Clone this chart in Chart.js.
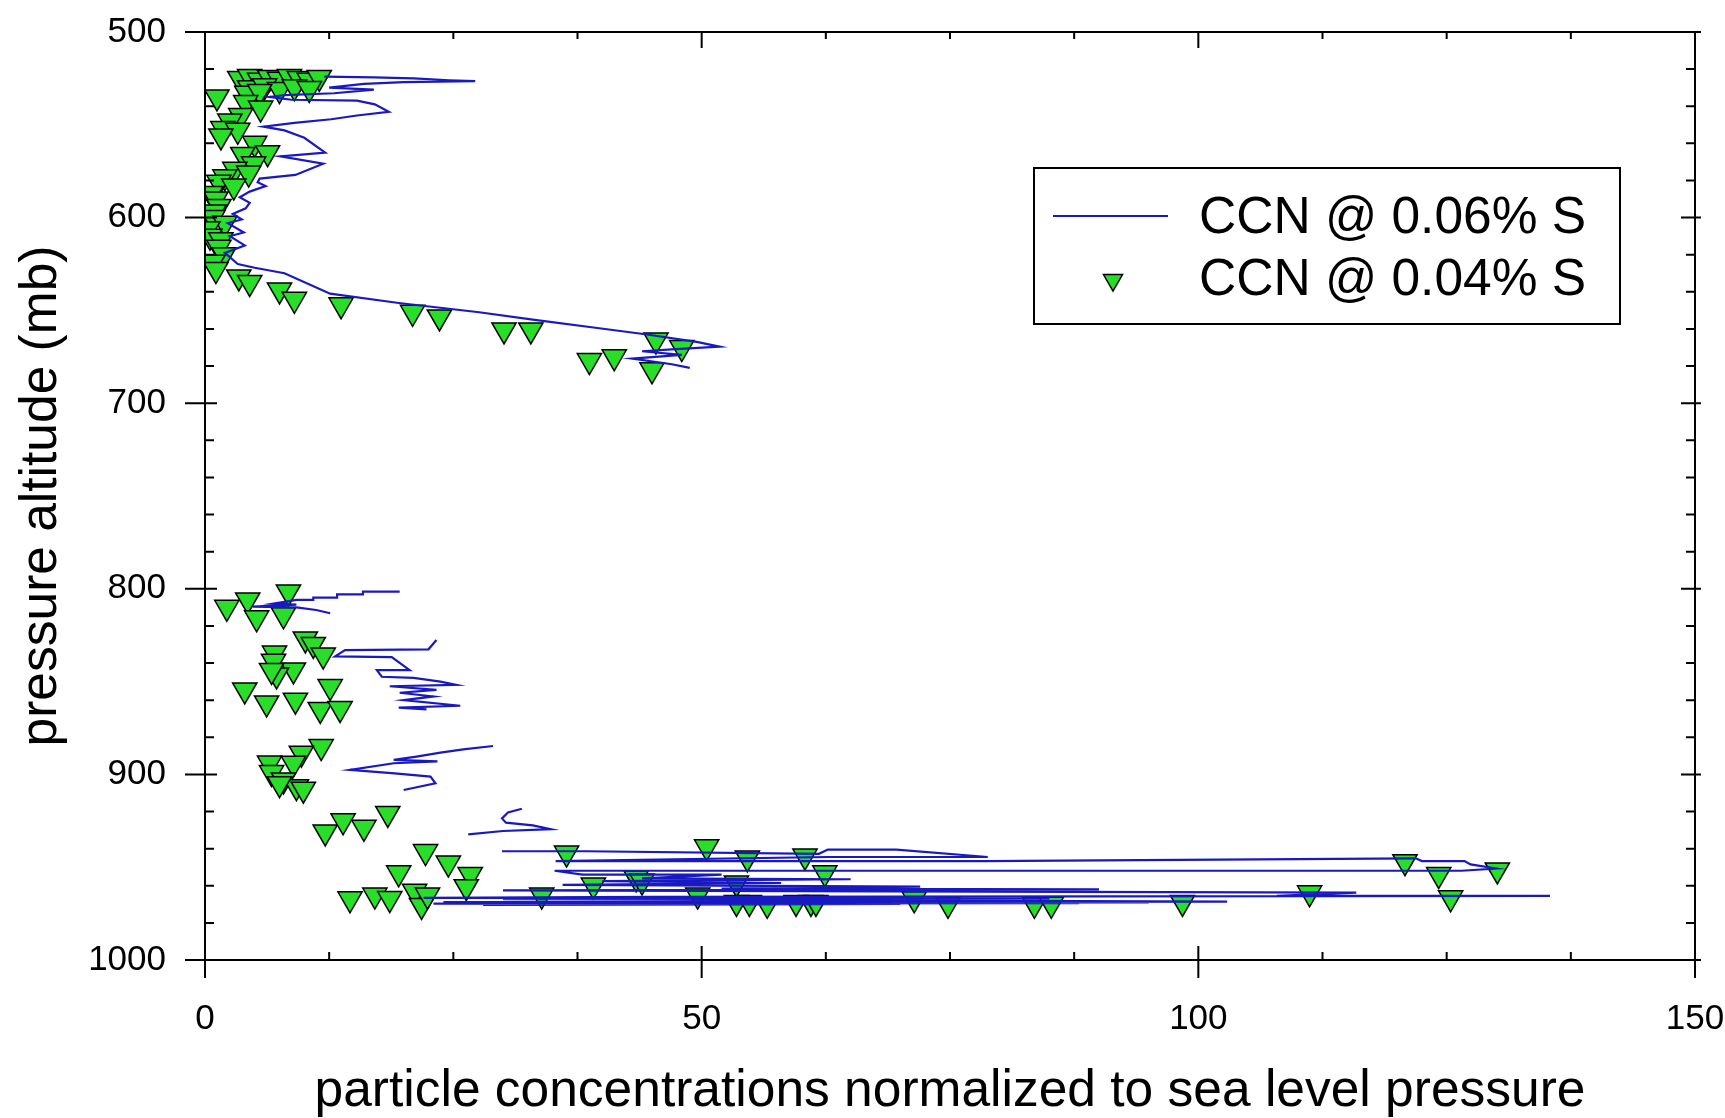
<!DOCTYPE html>
<html>
<head>
<meta charset="utf-8">
<script src="https://cdn.jsdelivr.net/npm/chart.js@4.4.1/dist/chart.umd.min.js"></script>
<style>
  body { margin: 0; background: #fff; }
  canvas { display: block; }
</style>
</head>
<body>
<canvas id="Chart" width="1725" height="1118"></canvas>
<script>
// CCN @ 0.06% S - blue trace, one array pair per flight leg (x = concentration, p = mb)
const legAX = [12, 17, 21, 24.6, 27.2, 20, 16, 12.5, 17, 13, 8, 6.5, 8.7, 15.3, 17.1, 18.5, 15.3, 12.7, 9, 5.9, 8, 10, 12.1, 7.6, 11.9, 9.1, 5.5, 5.3, 6.1, 4.5, 3.5, 4.5, 4.1, 2.8, 3.7, 2.3, 3.9, 2.5, 4, 2.0, 3.3, 5, 8, 12.6, 19.5, 27.6, 33, 39.5, 44.5, 49.5, 51.8, 47, 44, 48, 43, 47, 48.8];
const legAP = [524, 524.5, 525, 526, 526.5, 527, 528, 530, 531, 533, 534, 535, 536.5, 537, 539, 543, 545, 547, 549, 551, 553, 557, 565, 567, 571, 577, 579, 581, 583, 586, 589, 592, 595, 598, 601, 603, 608, 610, 615, 619, 625, 627, 630, 641, 646, 651, 655, 659.5, 663, 667, 669.5, 671, 672, 674, 676, 679, 681];

const legBX = [19.6, 15.9, 15.9, 13.3, 13.3, 10.9, 10.9, 9.2, 6.9, 9.2, 4.8, 9.2, 11.2, 12.6];
const legBP = [801.5, 801.5, 803, 803, 804.8, 804.8, 806, 806, 808, 808.5, 809.6, 810, 811.4, 813.2];

const legCX = [23.3, 22.5, 14.1, 13.1, 18.8, 20.6, 17.3, 17.8, 21, 23.7, 25.3, 18.6, 23.3, 19.6, 23, 20, 25.7, 19.5, 22.3];
const legCP = [827.6, 832.6, 833, 836.4, 836.8, 843.8, 843.8, 847.4, 848, 850, 851.8, 852.5, 854.5, 856, 858, 860, 863, 864, 865];

const legDX = [29, 26, 23.7, 21.3, 19, 23.4, 19, 14.6, 19.1, 22.7, 23.2, 20];
const legDP = [884.7, 886.5, 888.3, 890.4, 892.2, 893, 894, 897.6, 899.4, 901.2, 904.8, 908.4];

const legEX = [31.9, 30.5, 29.9, 30.3, 33, 34.8, 30, 26.5];
const legEP = [918.5, 920.5, 923.7, 926, 927.5, 929.5, 930.5, 932.3];

const legFX = [29.9, 38.4, 61.8, 62.7, 69.6, 78.8, 62.7, 35.3, 78.4, 121.9, 122.5, 126.8, 127.4, 130, 126.5, 35.2, 38, 52, 44, 65, 40, 58, 36, 72, 52, 90, 30, 115.9, 107.9, 135.4, 45, 22, 85, 30, 102.9, 24, 95, 26, 88, 23, 70, 55, 28];
const legFP = [941.4, 941.4, 942.8, 940.5, 940.5, 944.5, 944.5, 946.7, 946.7, 945.2, 946.7, 946.7, 948.5, 950.7, 951.9, 951.9, 954, 954, 956, 956.5, 957.5, 958.5, 959.5, 960.5, 961.5, 962, 962.5, 963.7, 965.5, 965.5, 966, 966.5, 966.8, 967.2, 968.6, 968.8, 969, 969.2, 969.4, 969.6, 969.8, 970, 970.3];

// CCN @ 0.04% S - triangles
const ccn04X = [3.5, 4.5, 5.5, 6.5, 7.5, 8.5, 9.5, 10.5, 11.5, 4.5, 6, 7.5, 9, 10.5,
  1.2, 4.2, 5.5, 4.1, 5.6, 3.6, 2.5, 1.8, 3.3, 1.6, 5, 6.3, 3.8, 4.9, 3.0, 4.4, 2, 1.4, 2.9, 0.6, 1.1, 1.4, 0.9, 0.8, 2.0, 0.3, 0.5, 1.6, 1.4, 1.9, 0.8, 1.1,
  3.4, 4.5, 7.5, 9.0, 13.7, 20.9, 23.6, 30.1, 32.8, 45.4, 48, 41.2, 38.7, 45,
  8.4, 2.2, 4.3, 5.2, 7.9, 10.1, 10.9, 11.9, 7.0, 6.9, 8.9, 7.2, 6.7, 4.0, 12.6, 6.2, 9.1, 11.6, 13.6,
  11.7, 9.7, 6.5, 8.9, 6.7, 7.9, 9.2, 9.9, 7.5,
  12.1, 13.9, 16, 18.4, 22.2, 24.5, 26.7, 26.3, 19.5, 17.1, 14.6, 18.6, 21.1, 21.8, 22.4,
  33.9, 36.4, 39.1, 43.4, 44, 50.5, 49.6, 53.5, 53.5, 54.6, 54.8, 56.6, 59.5, 60.4, 61, 61.5, 62.4,
  71.4, 74.8, 83.5, 85.2, 98.4, 111.2, 120.8, 124.2, 125.4, 130.1];
const ccn04P = [525, 524, 526, 524.5, 525.5, 524, 525, 526, 524.5, 530, 529, 531, 529.5, 530.5,
  535, 533, 532, 538, 541, 545, 548, 552, 553, 556, 560, 565, 566, 571, 574, 576, 578, 581, 583, 587, 590, 594, 597, 600, 603, 606, 610, 612, 616, 620, 624, 628,
  632, 635, 639, 644, 647, 651, 653.5, 660.5, 660.5, 666, 670, 675, 677, 682,
  801.7, 810, 806, 815.6, 814, 827, 830, 835.7, 834.6, 839, 843.7, 846.4, 844, 854.5, 852.7, 861.5, 860, 865, 864.5,
  885, 888.6, 893.9, 894, 899, 903, 906.6, 908, 905,
  931, 925, 928.5, 921, 941.6, 947.8, 954, 960.5, 953, 965, 967, 966.9, 963, 970.6, 965,
  965, 942.4, 959.6, 955.8, 957.5, 939, 965, 958.5, 969, 945, 969, 970, 969, 944, 969, 969, 953,
  967, 970, 970, 970, 969, 963.8, 947, 954, 966.5, 951.5];

const xTicks = [0, 50, 100, 150];
const yTicks = [500, 600, 700, 800, 900, 1000];

function toPoints(xs, ps) {
  return xs.map((v, i) => ({ x: v, y: ps[i] }));
}

// legs joined with a null point so the trace breaks between them
const legs = [[legAX, legAP], [legBX, legBP], [legCX, legCP], [legDX, legDP], [legEX, legEP], [legFX, legFP]];
let tracePoints = [];
legs.forEach((leg, i) => {
  if (i > 0) tracePoints.push({ x: null, y: null });
  tracePoints = tracePoints.concat(toPoints(leg[0], leg[1]));
});

const tickFont = { family: "'Liberation Sans', Arial, sans-serif", size: 35 };
const titleFont = { family: "'Liberation Sans', Arial, sans-serif", size: 51.5, lineHeight: 1 };

// box frame with major / minor ticks on all four sides
const framePlugin = {
  id: "frame",
  afterDraw(chart) {
    const ctx = chart.ctx;
    const a = chart.chartArea;
    const xs = chart.scales.x;
    const ys = chart.scales.y;
    ctx.save();
    ctx.strokeStyle = "#000";
    ctx.lineWidth = 2;
    ctx.strokeRect(a.left, a.top, a.right - a.left, a.bottom - a.top);
    ctx.beginPath();
    for (let v = 0; v <= 150; v += 12.5) {
      const px = xs.getPixelForValue(v);
      const major = v % 50 === 0;
      ctx.moveTo(px, a.bottom + (major ? 18 : 0));
      ctx.lineTo(px, a.bottom - (major ? 14 : 8));
      ctx.moveTo(px, a.top);
      ctx.lineTo(px, a.top + (major ? 16 : 7));
    }
    for (let p = 500; p <= 1000; p += 20) {
      const py = ys.getPixelForValue(p);
      const major = p % 100 === 0;
      ctx.moveTo(a.left - (major ? 20 : 0), py);
      ctx.lineTo(a.left + (major ? 12 : 9), py);
      ctx.moveTo(a.right + (major ? 6 : 0), py);
      ctx.lineTo(a.right - (major ? 14 : 9), py);
    }
    ctx.stroke();
    ctx.restore();
  }
};

// legend box drawn inside the plot
const legendPlugin = {
  id: "boxLegend",
  afterDraw(chart) {
    const ctx = chart.ctx;
    const ds = chart.data.datasets;
    ctx.save();
    ctx.fillStyle = "#fff";
    ctx.fillRect(1034, 168, 586, 156);
    ctx.strokeStyle = "#000";
    ctx.lineWidth = 2;
    ctx.strokeRect(1034, 168, 586, 156);

    ctx.strokeStyle = ds[0].borderColor;
    ctx.lineWidth = 2;
    ctx.beginPath();
    ctx.moveTo(1053, 216);
    ctx.lineTo(1168, 216);
    ctx.stroke();

    ctx.fillStyle = ds[1].backgroundColor;
    ctx.strokeStyle = "#000";
    ctx.lineWidth = 1.5;
    Chart.helpers.drawPoint(ctx, { pointStyle: "triangle", rotation: 180, radius: 11, borderWidth: 1.5 }, 1113, 280);

    ctx.fillStyle = "#000";
    ctx.font = "51.5px 'Liberation Sans', Arial, sans-serif";
    ctx.textBaseline = "middle";
    ctx.fillText(ds[0].label, 1199, 219);
    ctx.fillText(ds[1].label, 1199, 281);
    ctx.restore();
  }
};

const myChart = new Chart("Chart", {
  type: "scatter",
  data: {
    datasets: [{
      label: "CCN @ 0.06% S",
      data: tracePoints,
      showLine: true,
      spanGaps: false,
      borderColor: "rgb(25,25,195)",
      borderWidth: 2.2,
      pointRadius: 0,
      tension: 0
    }, {
      label: "CCN @ 0.04% S",
      data: toPoints(ccn04X, ccn04P),
      showLine: false,
      pointStyle: "triangle",
      rotation: 180,
      pointRadius: 14,
      backgroundColor: "rgb(40,222,40)",
      borderColor: "#000",
      borderWidth: 1.5
    }]
  },
  options: {
    responsive: false,
    animation: false,
    events: [],
    layout: { padding: { top: 32, right: 30, left: 0, bottom: 0 } },
    plugins: { legend: { display: false }, tooltip: { enabled: false } },
    scales: {
      x: {
        type: "linear",
        min: 0,
        max: 150,
        afterFit(scale) {
          scale.height = 158;
          scale.paddingLeft = 0;
          scale.paddingRight = 0;
        },
        afterBuildTicks(scale) { scale.ticks = xTicks.map(v => ({ value: v })); },
        grid: { display: false },
        border: { display: false },
        ticks: { font: tickFont, color: "#000", padding: 30, maxRotation: 0, callback: v => String(v) },
        title: { display: true, text: "particle concentrations normalized to sea level pressure", font: titleFont, color: "#000", padding: { top: 0, bottom: 0 } }
      },
      y: {
        type: "linear",
        reverse: true,
        min: 500,
        max: 1000,
        afterFit(scale) {
          scale.width = 205;
          scale.paddingTop = 0;
          scale.paddingBottom = 0;
        },
        afterBuildTicks(scale) { scale.ticks = yTicks.map(v => ({ value: v })); },
        grid: { display: false },
        border: { display: false },
        ticks: { font: tickFont, color: "#000", padding: 31, callback: v => String(v) },
        title: { display: true, text: "pressure altitude (mb)", font: titleFont, color: "#000", padding: { top: 16, bottom: 0 } }
      }
    }
  },
  plugins: [framePlugin, legendPlugin]
});
</script>
</body>
</html>
